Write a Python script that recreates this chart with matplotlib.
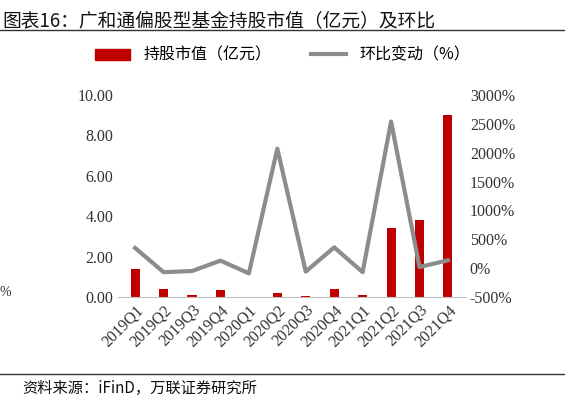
import matplotlib
matplotlib.use("Agg")
from matplotlib import pyplot as plt
from matplotlib.lines import Line2D

plt.rcParams["font.family"] = ["Noto Sans CJK SC", "DejaVu Sans"]

quarters = ["2019Q1", "2019Q2", "2019Q3", "2019Q4", "2020Q1", "2020Q2",
            "2020Q3", "2020Q4", "2021Q1", "2021Q2", "2021Q3", "2021Q4"]
market_value = [1.38, 0.38, 0.12, 0.33, 0.01, 0.20, 0.07, 0.42, 0.12, 3.42, 3.82, 9.00]
qoq_change = [350, -70, -50, 130, -90, 2070, -60, 360, -70, 2540, 20, 135]

RED = "#c00000"
GREY = "#8c8c8c"

fig = plt.figure(figsize=(5.65, 4), dpi=100)
ax = fig.add_axes([0.209, 0.2575, 0.614, 0.505])
ax2 = ax.twinx()

x = range(len(quarters))
ax.bar(x, market_value, width=0.32, color=RED, zorder=2)
ax2.plot(x, qoq_change, color=GREY, linewidth=3, zorder=3)

ax.set_ylim(0, 10)
ax.set_yticks([0, 2, 4, 6, 8, 10])
ax.set_yticklabels(["0.00", "2.00", "4.00", "6.00", "8.00", "10.00"],
                   family="Liberation Serif", fontsize=11.5, color="#333333")
ax2.set_ylim(-500, 3000)
ax2.set_yticks(range(-500, 3001, 500))
ax2.set_yticklabels([f"{v}%" for v in range(-500, 3001, 500)],
                    family="Liberation Serif", fontsize=11.5, color="#333333")
ax.set_xlim(-0.6, len(quarters) - 0.4)
ax.set_xticks(list(x))
ax.set_xticklabels(quarters, rotation=45, ha="right", rotation_mode="anchor",
                   family="Liberation Serif", fontsize=11.5, color="#333333")

for a in (ax, ax2):
    for s in ("top", "left", "right"):
        a.spines[s].set_visible(False)
    a.tick_params(length=0)
ax.spines["bottom"].set_color("#bfbfbf")
ax2.spines["bottom"].set_visible(False)

handles = [plt.Rectangle((0, 0), 1, 1, color=RED),
           Line2D([0], [0], color=GREY, linewidth=3)]
fig.legend(handles, ["持股市值（亿元）", "环比变动（%）"], loc="center",
           bbox_to_anchor=(0.5, 0.862), ncol=2, frameon=False, fontsize=11.5,
           handlelength=2.2, columnspacing=2.5)

fig.text(0.005, 0.975, "图表16：广和通偏股型基金持股市值（亿元）及环比",
         fontsize=13.5, va="top", color="#111111")
fig.add_artist(Line2D([0, 1], [0.925, 0.925], color="#333333", linewidth=1))
fig.add_artist(Line2D([0, 1], [0.065, 0.065], color="#333333", linewidth=1))
fig.text(0.04, 0.028, "资料来源：iFinD，万联证券研究所", fontsize=11,
         va="center", style="italic", color="#111111")
fig.text(0.0, 0.26, "%", fontsize=10, family="Liberation Serif", color="#333333")

fig.savefig("out.png", dpi=100)
